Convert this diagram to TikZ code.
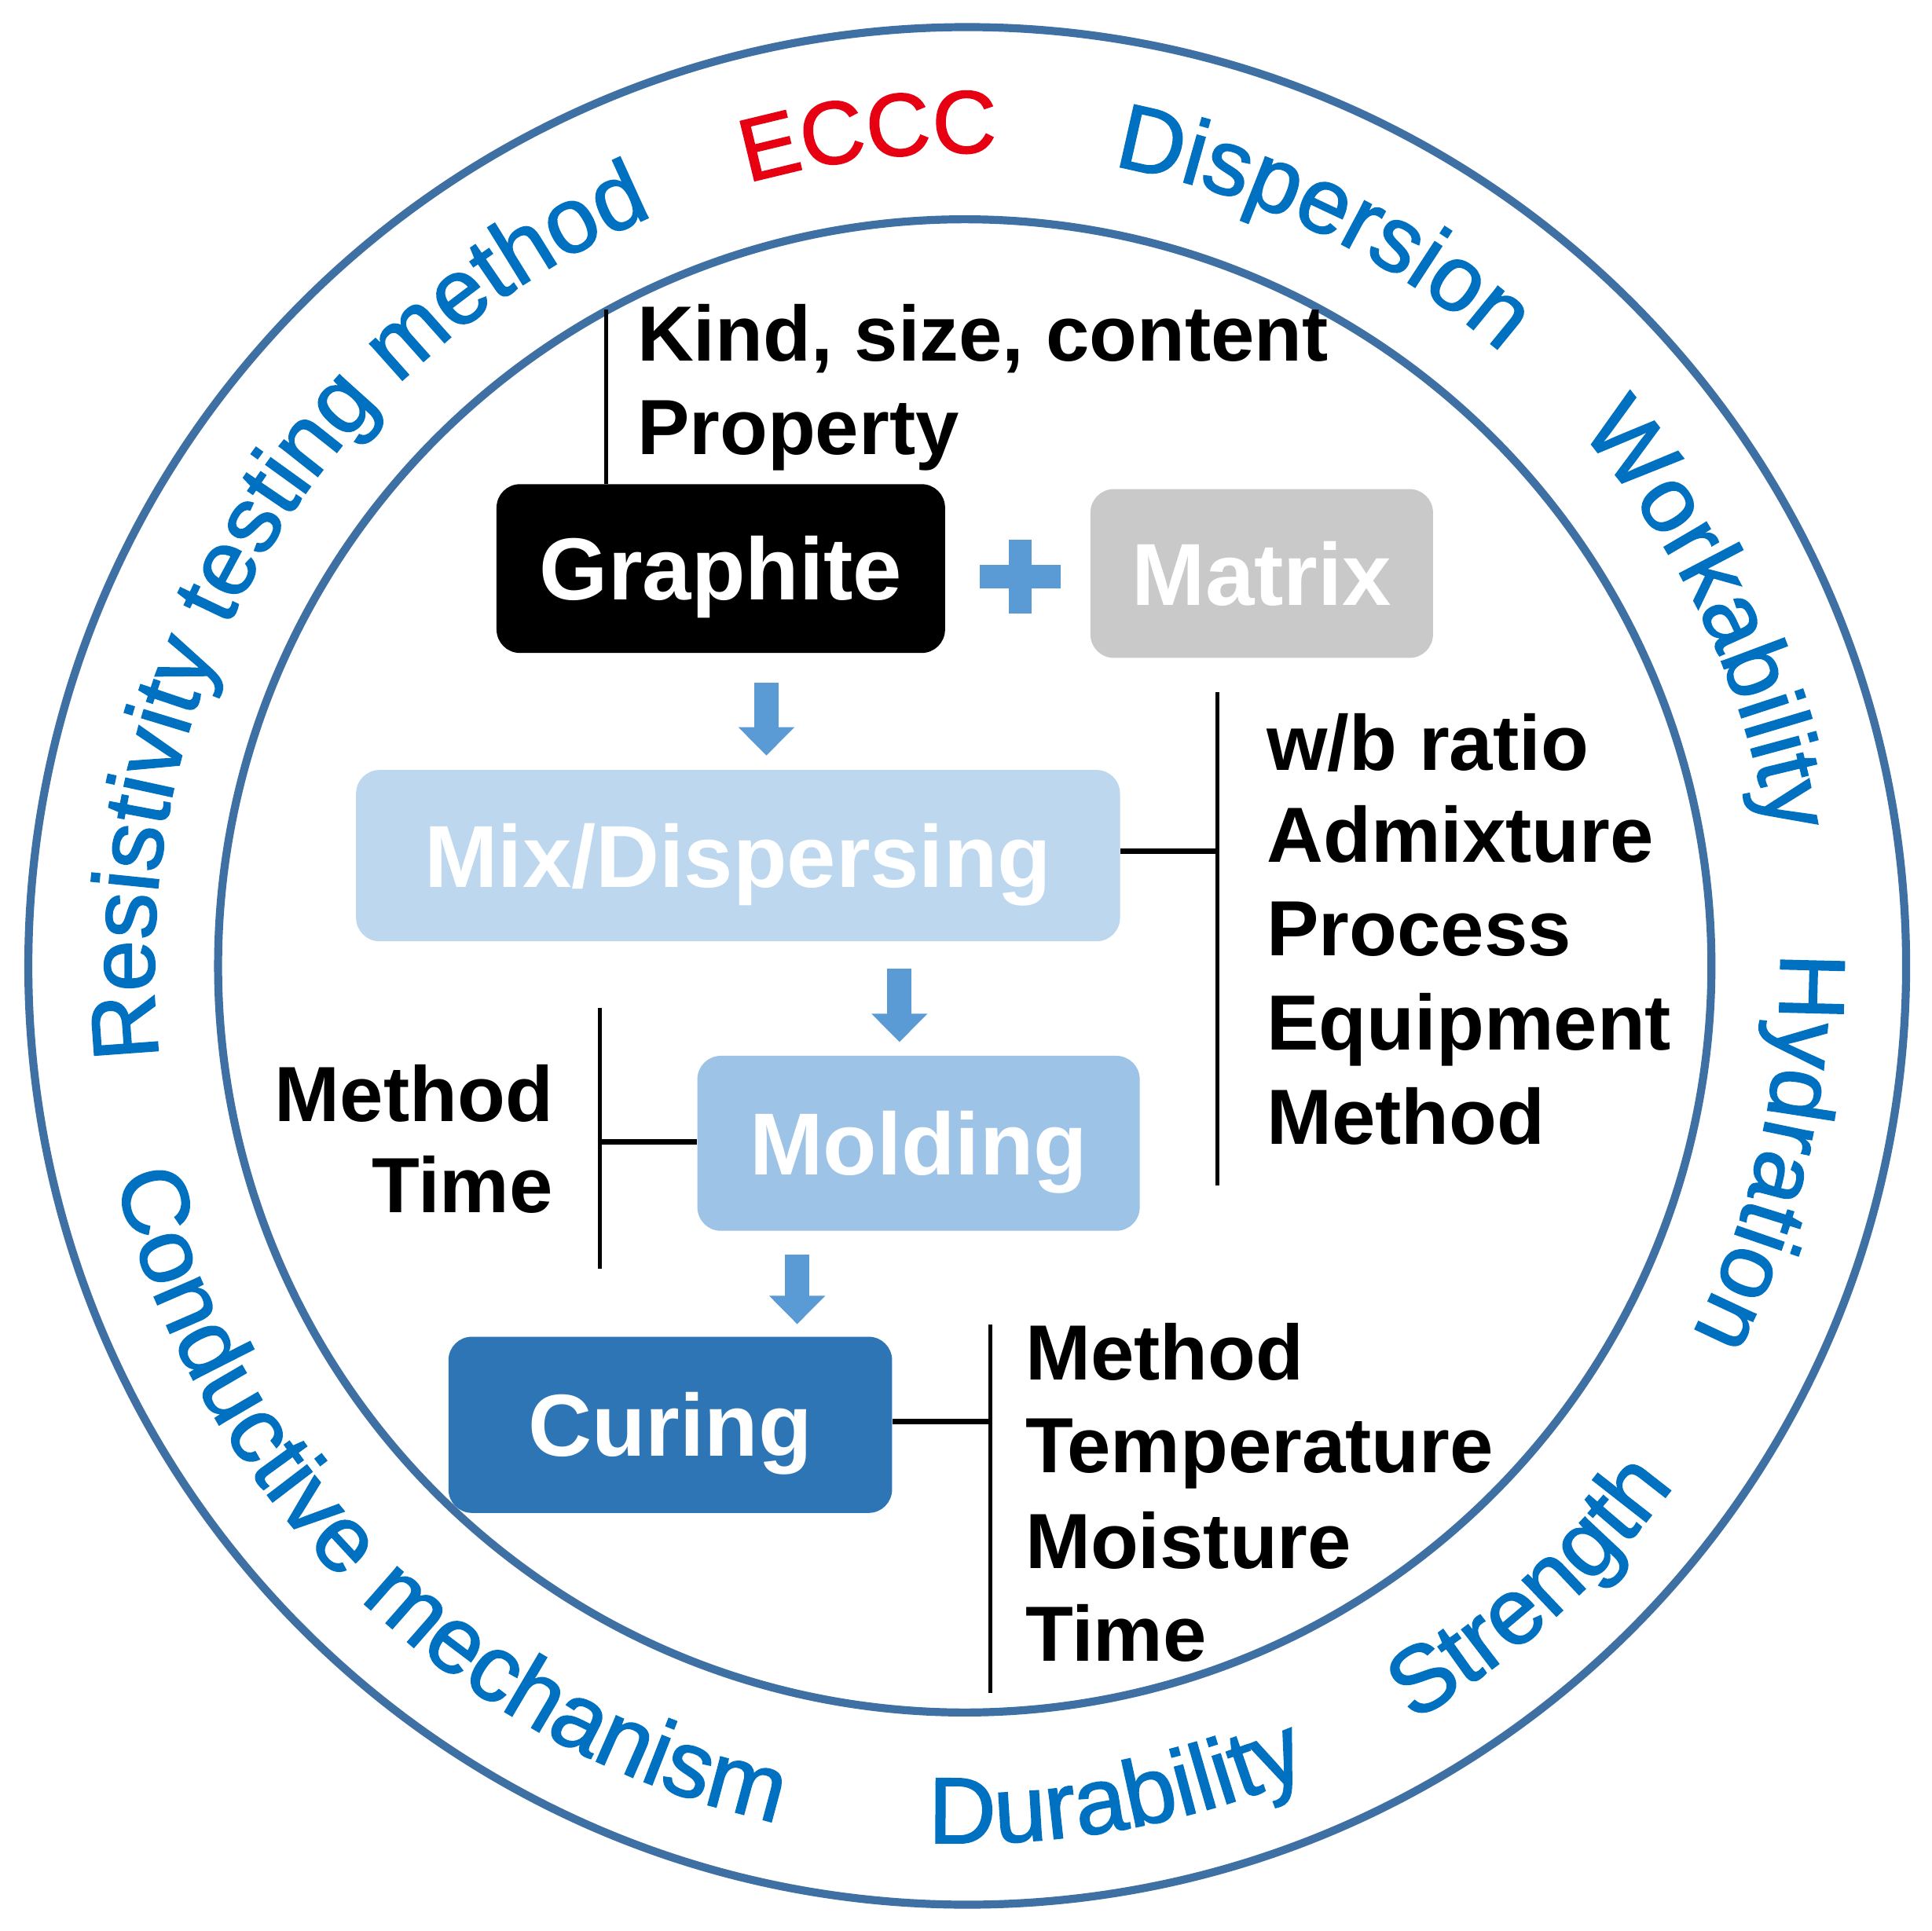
\documentclass[tikz,border=0pt]{standalone}
\usepackage{fontspec}
\setmainfont{Liberation Sans}
\newfontfamily\ringfont[FakeBold=1.6]{Liberation Sans}
\usetikzlibrary{decorations.text,arrows.meta}
\definecolor{ringblue}{HTML}{0070C0}
\definecolor{circc}{HTML}{3E70A3}
\definecolor{ecccred}{HTML}{E60012}
\definecolor{arrowblue}{HTML}{5B9BD5}
\definecolor{mixc}{HTML}{BDD7EE}
\definecolor{moldc}{HTML}{9DC3E6}
\definecolor{curec}{HTML}{2E75B6}
\definecolor{matc}{HTML}{C9C9C9}
\begin{document}
\begin{tikzpicture}[x=1pt,y=1pt,
  box/.style={rounded corners=19pt, text=white, inner sep=0pt,
    font=\bfseries\fontsize{71.5}{86}\selectfont, text height=51pt, text depth=0pt},
  lbl/.style={font=\bfseries\fontsize{63.5}{76}\selectfont, inner sep=0pt, text=black},
  conn/.style={line width=4.5pt, black},
  brk/.style={line width=3.2pt, black},
  ringline/.style={circc, line width=6.5pt},
  blockarrow/.style={arrowblue, line width=20pt, -{Triangle[width=44pt,length=23pt]}},
  cwtext/.style={decorate, decoration={text along path, text align=center,
    text color=ringblue, text={|\ringfont\fontsize{75}{90}\selectfont|#1}}},
  ccwtext/.style={decorate, decoration={text along path, text align=center,
    text color=ringblue, text={|\ringfont\fontsize{76}{90}\selectfont|#1}}},
]
\useasboundingbox (-785,-783) rectangle (783,784);
\fill[white] (-785,-783) rectangle (783,784);

% rings
\draw[ringline] (0,0) circle[radius=762pt];
\draw[ringline] (-2,0) circle[radius=606pt];

% ring texts (clockwise, tops outward)
\path[cwtext={Resistivity testing method}] (199.6:660) arc[start angle=199.6, end angle=99.6, radius=660pt];
\path[decorate, decoration={text along path, text align=center,
    text color=ecccred, text={|\ringfont\fontsize{72}{86}\selectfont|ECCC}}]
  (111.8:660) arc[start angle=111.8, end angle=81.8, radius=660pt];
\path[cwtext={Dispersion}] (89.3:660) arc[start angle=89.3, end angle=39.3, radius=660pt];
\path[cwtext={Workability}] (50.3:660) arc[start angle=50.3, end angle=0.3, radius=660pt];
\path[cwtext={Hydration}] (12:660) arc[start angle=12, end angle=-38, radius=660pt];
% ring texts (counter-clockwise, tops inward)
\path[ccwtext={Conductive mechanism}] (180.7:712) arc[start angle=180.7, end angle=270.7, radius=712pt];
\path[ccwtext={Durability}] (-99.8:712) arc[start angle=-99.8, end angle=-59.8, radius=712pt];
\path[ccwtext={Strength}] (-67.9:712) arc[start angle=-67.9, end angle=-27.9, radius=712pt];

% boxes
\node[box, fill=black, minimum width=364pt, minimum height=137pt] (g) at (-200,322.5) {Graphite};
\node[box, fill=matc, minimum width=278pt, minimum height=137pt] (mat) at (239,318.5) {Matrix};
\node[box, fill=mixc, minimum width=620pt, minimum height=139pt] (mix) at (-186,89.5) {Mix/Dispersing};
\node[box, fill=moldc, minimum width=359pt, minimum height=142pt] (mold) at (-39.5,-144) {Molding};
\node[box, fill=curec, minimum width=360pt, minimum height=143pt] (cure) at (-241,-372.5) {Curing};

% plus sign
\coordinate (plus) at (43,316);
\fill[arrowblue] ([shift={(-33,-9.5)}]plus) rectangle ([shift={(33,9.5)}]plus);
\fill[arrowblue] ([shift={(-9.5,-30)}]plus) rectangle ([shift={(9.5,30)}]plus);

% flow arrows
\draw[blockarrow] ([xshift=37pt,yshift=-24pt]g.south) -- ([xshift=23pt,yshift=11.5pt]mix.north);
\draw[blockarrow] ([xshift=131pt,yshift=-22pt]mix.south) -- ([xshift=-15.5pt,yshift=11pt]mold.north);
\draw[blockarrow] ([xshift=-98.5pt,yshift=-19pt]mold.south) -- ([xshift=103pt,yshift=10pt]cure.north);

% graphite bracket
\coordinate (gk) at (-293,533);
\draw[brk] (g.north -| gk) -- (gk);
\node[lbl, anchor=base west] (k1) at (-268,491) {Kind, size, content};
\node[lbl, anchor=base west] (k2) at (-268,415) {Property};

% mix bracket
\coordinate (mj) at (203,93);
\coordinate (mt) at (203,222);
\coordinate (mb) at (203,-178);
\draw[conn] (mj -| mix.east) -- (mj);
\draw[brk] (mt) -- (mb);
\node[lbl, anchor=base west] (m1) at (243,159) {w/b ratio};
\node[lbl, anchor=base west] (m2) at (243,84) {Admixture};
\node[lbl, anchor=base west] (m3) at (243,8) {Process};
\node[lbl, anchor=base west] (m4) at (243,-68) {Equipment};
\node[lbl, anchor=base west] (m5) at (243,-145) {Method};

% molding bracket
\coordinate (lj) at (-298,-143);
\coordinate (lt) at (-298,-34);
\coordinate (lb) at (-298,-246);
\draw[conn] (lj) -- (lj -| mold.west);
\draw[brk] (lt) -- (lb);
\node[lbl, anchor=base east] (o1) at (-336,-126) {Method};
\node[lbl, anchor=base east] (o2) at (-336,-200) {Time};

% curing bracket
\coordinate (cj) at (19,-370);
\coordinate (ct) at (19,-291);
\coordinate (cb) at (19,-590);
\draw[conn] (cj -| cure.east) -- (cj);
\draw[brk] (ct) -- (cb);
\node[lbl, anchor=base west] (c1) at (47,-336) {Method};
\node[lbl, anchor=base west] (c2) at (47,-411) {Temperature};
\node[lbl, anchor=base west] (c3) at (47,-489) {Moisture};
\node[lbl, anchor=base west] (c4) at (47,-564) {Time};
\end{tikzpicture}
\end{document}
